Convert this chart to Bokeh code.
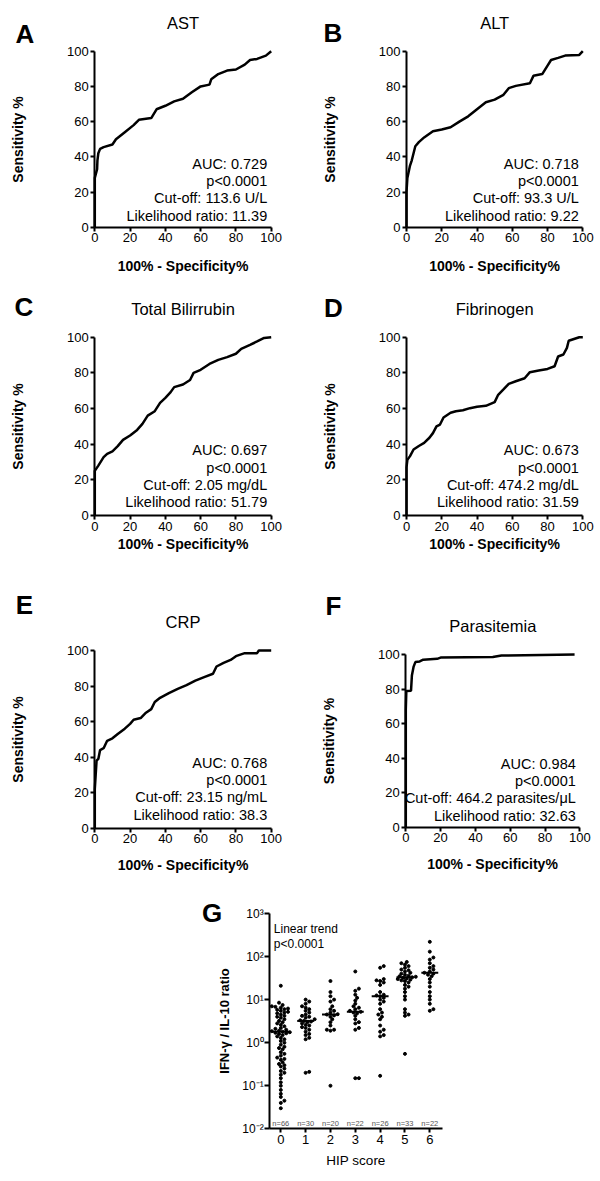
import numpy as np
from bokeh.plotting import figure
from bokeh.layouts import column, row
from bokeh.models import Range1d, FixedTicker, Label, LinearAxis, LogAxis, CustomJSTickFormatter
from bokeh.embed import file_html
from bokeh.resources import INLINE

FONT = "Liberation Sans"

# ---------------- ROC data ----------------
ast_fpr = [0, 0, 1.3, 1.5, 2, 3, 5, 10, 12, 17, 22, 25, 32, 35, 40, 45, 50, 55, 60, 65, 66, 70, 75, 80, 85, 88, 92, 97, 100]
ast_sens = [0, 28, 33, 38, 42, 44.5, 45.5, 47, 50, 54, 58, 61, 62, 67, 69, 71.5, 73, 76.7, 80, 81, 84, 87, 89, 89.6, 92.4, 95, 95.6, 97.5, 100]

alt_fpr = [0, 0, 0.5, 2, 3, 5, 7, 10, 15, 20, 25, 30, 35, 40, 45, 50, 55, 58, 62, 70, 72, 77, 80, 82, 86, 90, 98, 100]
alt_sens = [0, 20, 28, 35, 38, 46, 48.3, 51, 54.5, 55.5, 56.8, 60, 63, 67, 71, 72.5, 75.2, 79, 80.3, 81.8, 86, 87, 91.8, 95, 96.2, 97.5, 97.9, 100]

bil_fpr = [0, 0, 2, 5, 7, 10, 13, 16, 20, 24, 27, 30, 34, 37, 40, 43, 45, 50, 54, 56, 60, 65, 70, 75, 80, 83, 88, 92, 96, 100]
bil_sens = [0, 25, 28, 32.7, 34.6, 36, 38.9, 42.4, 44.9, 48, 51.4, 56, 58.5, 63.2, 66, 69.2, 72, 73.5, 76, 80, 81.7, 85, 87.3, 88.8, 90.7, 93.5, 95.7, 97.6, 99.6, 100]

fib_fpr = [0, 0, 0.5, 2, 4, 7, 10, 13, 15, 17, 19, 21, 25, 28, 32, 36, 40, 45, 50, 52, 55, 58, 62, 67, 70, 75, 80, 84, 86, 89, 91, 92, 95, 98, 100]
fib_sens = [0, 27, 31.2, 33.3, 37, 39, 40.7, 43.6, 46.2, 50, 51, 55, 57.6, 58.5, 59, 60.2, 61, 61.5, 63.6, 67.7, 70.7, 73.8, 75.3, 77, 80.4, 81.3, 82.2, 83.7, 89.2, 90.3, 94, 98, 99, 100, 100]

crp_fpr = [0, 0, 0.5, 1, 2, 3, 5, 7, 10, 13, 17, 20, 22, 26, 29, 32, 34, 37, 42, 47, 52, 57, 62, 67, 69, 73, 77, 80, 85, 92, 93, 100]
crp_sens = [0, 22, 30, 38, 39, 44, 45, 49.2, 50.6, 53, 56, 58.7, 61, 62, 65, 67, 71, 73.4, 76, 78.4, 80.5, 83, 85, 86.9, 91, 93, 94.7, 96.8, 98.5, 98.5, 100, 100]

par_fpr = [0, 0, 0.3, 3, 3.5, 4.5, 5.5, 8, 10, 18, 20, 50, 55, 97]
par_sens = [0, 68, 78.8, 79, 87.8, 93, 95.6, 96, 97, 97.5, 98.2, 98.5, 99.4, 100]

roc_ticks = [0, 20, 40, 60, 80, 100]

ast_stats = ["AUC: 0.729", "p<0.0001", "Cut-off: 113.6 U/L", "Likelihood ratio: 11.39"]
alt_stats = ["AUC: 0.718", "p<0.0001", "Cut-off: 93.3 U/L", "Likelihood ratio: 9.22"]
bil_stats = ["AUC: 0.697", "p<0.0001", "Cut-off: 2.05 mg/dL", "Likelihood ratio: 51.79"]
fib_stats = ["AUC: 0.673", "p<0.0001", "Cut-off: 474.2 mg/dL", "Likelihood ratio: 31.59"]
crp_stats = ["AUC: 0.768", "p<0.0001", "Cut-off: 23.15 ng/mL", "Likelihood ratio: 38.3"]
par_stats = ["AUC: 0.984", "p<0.0001", "Cut-off: 464.2 parasites/\u03bcL", "Likelihood ratio: 32.63"]

# ---------------- Panel G data ----------------
hip_scores = [0, 1, 2, 3, 4, 5, 6]
hip_n = ["n=66", "n=30", "n=20", "n=22", "n=26", "n=33", "n=22"]
hip_medians = [1.8, 3.2, 4.5, 5.2, 12, 33, 42]
hip0 = [21, 8.5, 7.5, 7, 6.8, 6.5, 6.2, 6, 5.8, 5.5, 5.2, 5, 4.8, 4.5, 4.2, 4, 3.8, 3.5, 3.2, 3,
        2.8, 2.6, 2.4, 2.2, 2.1, 2, 1.9, 1.85, 1.8, 1.75, 1.7, 1.65, 1.6, 1.5, 1.4, 1.3, 1.2, 1.1, 1.0, 0.9,
        0.8, 0.75, 0.7, 0.6, 0.55, 0.5, 0.45, 0.42, 0.4, 0.35, 0.32, 0.3, 0.28, 0.25, 0.22, 0.2, 0.18, 0.15,
        0.12, 0.1, 0.08, 0.065, 0.055, 0.045, 0.04, 0.03]
hip1 = [10, 9, 8, 7, 6.5, 6, 5.5, 5, 4.5, 4.2, 4, 3.8, 3.5, 3.3, 3.2, 3.1, 3, 2.8, 2.6, 2.5, 2.3, 2.2,
        2, 1.8, 1.6, 1.5, 1.3, 1.2, 0.21, 0.2]
hip2 = [27, 15, 12, 10, 9, 7, 6, 5.5, 5, 4.6, 4.5, 4.3, 4, 3.5, 3, 2.5, 2, 2, 1.9, 0.1]
hip3 = [45, 18, 16, 13, 11, 9.5, 8, 7, 6.5, 6, 5.5, 5.2, 5, 4.8, 4.2, 3.5, 3, 2.8, 2.2, 2, 0.15, 0.15]
hip4 = [60, 55, 30, 28, 27, 25, 22, 15, 13, 12.5, 12, 11, 10, 9, 8, 6, 5, 4.5, 4, 3.5, 2.5, 2, 1.8, 1.5, 1.4, 0.17]
hip5 = [75, 70, 65, 60, 55, 50, 48, 45, 42, 40, 38, 36, 35, 34, 33, 32, 31, 30, 29, 28, 27, 25, 22, 20, 18,
        15, 12, 10, 6, 5, 4.5, 4.2, 0.55]
hip6 = [220, 130, 95, 85, 70, 60, 55, 50, 45, 42, 40, 38, 35, 30, 25, 20, 15, 12, 10, 8, 6, 5.5]
hip_groups = [hip0, hip1, hip2, hip3, hip4, hip5, hip6]


def style_axis(ax, tick_size="13px", lab_size="14px", bold=True):
    ax.axis_line_width = 2
    ax.axis_line_color = "black"
    ax.major_tick_line_width = 2
    ax.major_tick_line_color = "black"
    ax.major_tick_out = 4
    ax.major_tick_in = 0
    ax.minor_tick_out = 0
    ax.minor_tick_in = 0
    ax.major_label_text_font = FONT
    ax.major_label_text_font_size = tick_size
    ax.major_label_text_color = "black"
    ax.axis_label_text_font = FONT
    ax.axis_label_text_font_size = lab_size
    ax.axis_label_text_font_style = "bold" if bold else "normal"
    ax.axis_label_text_color = "black"
    ax.major_label_standoff = 2


def base_fig(W, H, xr, yr, log=False):
    p = figure(width=W, height=H, min_border=0, x_range=xr, y_range=yr,
               x_axis_location=None, y_axis_location=None,
               y_axis_type="log" if log else "linear",
               output_backend="svg", toolbar_location=None, tools="")
    p.grid.visible = False
    p.outline_line_color = None
    p.background_fill_color = "white"
    p.border_fill_color = "white"
    return p


def add_label(p, ox, oy, H, px, py, text, size, align="center", bold=False, color="black"):
    p.add_layout(Label(x=px - ox, y=(oy + H) - py, x_units="screen", y_units="screen",
                       text=text, text_align=align, text_baseline="middle", text_font=FONT,
                       text_font_size=size, text_font_style="bold" if bold else "normal",
                       text_color=color))


def roc_panel(ox, oy, W, H, x0, x100, y0, y100, letter, title, fpr, sens, stats,
              xstand, letter_dx, letter_up, stat_base):
    sx = (x100 - x0) / 100.0
    sy = (y0 - y100) / 100.0
    xr = Range1d((ox - x0) / sx, (ox + W - x0) / sx)
    yr = Range1d(-((oy + H) - y0) / sy, 100 + (y100 - oy) / sy)
    p = base_fig(W, H, xr, yr)
    p.line(fpr, sens, line_width=2.5, color="black")
    xa = LinearAxis(fixed_location=0, bounds=(0, 100), ticker=FixedTicker(ticks=roc_ticks),
                    axis_label="100% - Specificity%")
    ya = LinearAxis(fixed_location=0, bounds=(0, 100), ticker=FixedTicker(ticks=roc_ticks),
                    axis_label="Sensitivity %")
    style_axis(xa)
    style_axis(ya)
    xa.axis_label_standoff = int(xstand)
    ya.axis_label_standoff = 38
    p.add_layout(xa, "below")
    p.add_layout(ya, "left")
    add_label(p, ox, oy, H, (x0 + x100) / 2, y100 - 28.3, title, "16.5px")
    add_label(p, ox, oy, H, x0 + letter_dx, y100 - letter_up, letter, "26px", bold=True)
    for i, s in enumerate(stats):
        add_label(p, ox, oy, H, x100 - 4, y0 - (stat_base + 17.3 * (3 - i)), s, "14.5px",
                  align="right")
    return p


pA = roc_panel(0, 0, 300, 280, 94.3, 270.7, 226.7, 50.7, "A", "AST", ast_fpr, ast_sens, ast_stats,
               12, -70, 17.4, 11.7)
pB = roc_panel(300, 0, 300, 280, 406, 582.3, 226.7, 50.7, "B", "ALT", alt_fpr, alt_sens, alt_stats,
               12, -73.5, 18.2, 11.7)
pC = roc_panel(0, 280, 300, 285, 94.3, 270.7, 515, 336.7, "C", "Total Bilirrubin", bil_fpr, bil_sens,
               bil_stats, 2, -71, 30, 13.3)
pD = roc_panel(300, 280, 300, 285, 406, 582.3, 515, 336.7, "D", "Fibrinogen", fib_fpr, fib_sens,
               fib_stats, 2, -73, 29.7, 13.3)
pE = roc_panel(0, 565, 300, 320, 94.3, 270.7, 827.7, 650, "E", "CRP", crp_fpr, crp_sens, crp_stats,
               10, -70.3, 46, 13.5)
pF = roc_panel(300, 565, 300, 320, 405.3, 579.3, 826.7, 654, "F", "Parasitemia", par_fpr, par_sens,
               par_stats, 10, -72.3, 49, 11.7)

# ---------------- Panel G ----------------
GOX, GOY, GW, GH = 0, 885, 600, 296
gx0, gx6 = 280.3, 429.3          # page x of categories 0 and 6
gy_lo, gy_hi = 1128.3, 913.0      # page y of 1e-2 and 1e3
cat_px = (gx6 - gx0) / 6.0
dec_px = (gy_lo - gy_hi) / 5.0
gxr = Range1d((GOX - gx0) / cat_px, (GOX + GW - gx0) / cat_px)
gyr = Range1d(10 ** (-2 - ((GOY + GH) - gy_lo) / dec_px), 10 ** (3 + (gy_hi - GOY) / dec_px))
XB = (-0.45, 6.52)


def swarm(vals, g, d=3.0):
    order = sorted(range(len(vals)), key=lambda i: vals[i])
    placed = []
    xs = [0.0] * len(vals)
    cands = [0.0]
    for n in range(1, 30):
        cands += [n * d * 0.6, -n * d * 0.6]
    for i in order:
        yp = np.log10(vals[i]) * dec_px
        xp = 0.0
        for c in cands:
            if all((c - a) ** 2 + (yp - b) ** 2 >= d * d for a, b in placed):
                xp = c
                break
        placed.append((xp, yp))
        xs[i] = g + xp / cat_px
    return xs


pG = base_fig(GW, GH, gxr, gyr, log=True)
for g, vals in zip(hip_scores, hip_groups):
    pG.scatter(swarm(vals, g), vals, size=3.0, color="black", marker="circle")
pG.segment(x0=[g - 0.34 for g in hip_scores], x1=[g + 0.34 for g in hip_scores],
           y0=hip_medians, y1=hip_medians, line_width=2, color="black")

gxa = LinearAxis(fixed_location=0.01, bounds=XB, ticker=FixedTicker(ticks=hip_scores),
                 axis_label="HIP score")
gya = LogAxis(fixed_location=XB[0], bounds=(0.01, 1000),
              ticker=FixedTicker(ticks=[0.01, 0.1, 1, 10, 100, 1000]),
              axis_label="IFN-\u03b3 / IL-10 ratio")
style_axis(gxa, tick_size="13px", lab_size="13.5px", bold=False)
style_axis(gya, tick_size="12px", lab_size="13px", bold=True)
gxa.axis_label_standoff = 6
gya.major_tick_out = 5
gya.major_label_standoff = 1
gya.axis_label_standoff = 7
gya.formatter = CustomJSTickFormatter(code="""
const sup = {"-2": "\u207b\u00b2", "-1": "\u207b\u00b9", "0": "\u2070", "1": "\u00b9", "2": "\u00b2", "3": "\u00b3"};
const e = Math.round(Math.log10(tick));
return "10" + sup[String(e)];
""")
pG.add_layout(gxa, "below")
pG.add_layout(gya, "left")

add_label(pG, GOX, GOY, GH, 211.5, 912, "G", "26px", bold=True)
add_label(pG, GOX, GOY, GH, 273.3, 928.3, "Linear trend", "12px", align="left")
add_label(pG, GOX, GOY, GH, 273.3, 943.3, "p<0.0001", "12px", align="left")
for g, t in zip(hip_scores, hip_n):
    pG.add_layout(Label(x=g, y=(GOY + GH) - 1122.7, x_units="data", y_units="screen", text=t,
                        text_align="center", text_baseline="middle", text_font=FONT,
                        text_font_size="7.5px", text_color="#555555"))

layout = column(row(pA, pB), row(pC, pD), row(pE, pF), pG)
open("out.html", "w").write(file_html(layout, INLINE))
